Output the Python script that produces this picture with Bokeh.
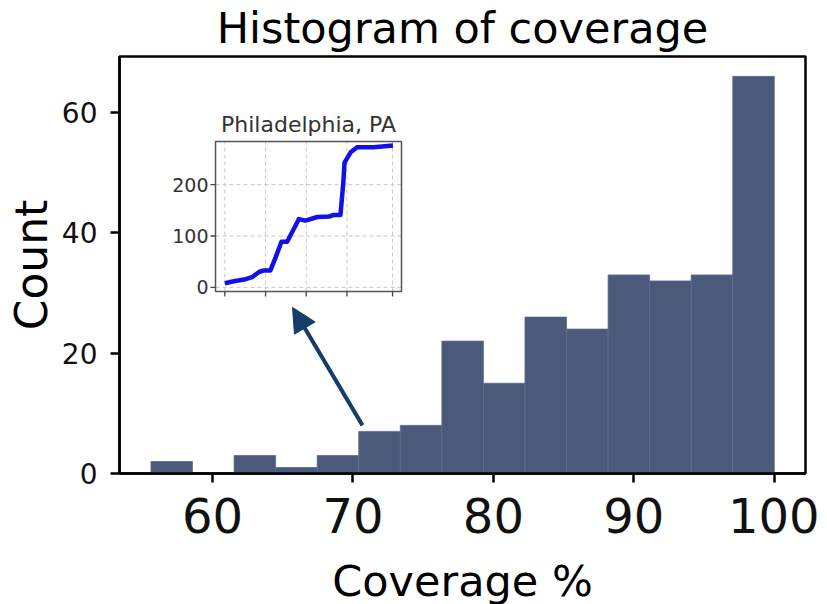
import numpy as np
from bokeh.plotting import figure
from bokeh.models import Range1d, FixedTicker, Arrow, NormalHead
from bokeh.core.properties import value
from bokeh.embed import file_html
from bokeh.resources import INLINE

# ---------------- data ----------------
coverage_min = 55.62
coverage_max = 100.0
counts = [2, 0, 3, 1, 3, 7, 8, 22, 15, 26, 24, 33, 32, 33, 66]
x_ticks = [60, 70, 80, 90, 100]
y_ticks = [0, 20, 40, 60]

# inset: cumulative count over time, Philadelphia, PA
inset_x = [0, 2.2, 5.1, 6.7, 8.4, 9.6, 11.2, 12.5, 13.9, 15.3, 18.2, 19.8,
           22.7, 25.6, 26.8, 28.4, 29.1, 29.4, 30.9, 32.5, 36.6, 41.3]
inset_y = [8, 12, 16, 20, 30, 33, 33, 59, 89, 89, 133, 130,
           137, 138, 141, 141, 204, 243, 263, 273, 273, 276]
inset_x_ticks = [0, 10, 20, 30, 41.2]
inset_y_ticks = [0, 100, 200]
inset_title = "Philadelphia, PA"

# annotation arrow (main data coordinates): from the 71-74 % bin to the inset
arrow_start = (70.68, 8.0)
arrow_end = (65.7, 27.6)

# ---------------- layout constants (page pixels) ----------------
FRAME_L, FRAME_T, FRAME_R, FRAME_B = 119, 56, 805, 473
IN_L, IN_T, IN_R, IN_B = 215, 141, 401, 291
X_LIM = (53.38, 102.22)
Y_LIM = (0, 69.3)
IX_LIM = (-2.3, 43.4)
IY_LIM = (-8, 284)

FW = FRAME_R - FRAME_L
FH = FRAME_B - FRAME_T

FONT = "DejaVu Sans"

p = figure(frame_width=FW, frame_height=FH,
           x_range=Range1d(*X_LIM), y_range=Range1d(*Y_LIM),
           output_backend="svg", toolbar_location=None,
           min_border_left=FRAME_L, min_border_top=FRAME_T,
           min_border_right=14, min_border_bottom=100,
           title="Histogram of coverage")
p.background_fill_color = "white"
p.border_fill_color = "white"
p.title.text_font = FONT
p.title.text_font_size = "43px"
p.title.text_font_style = "normal"
p.title.text_color = "black"
p.title.align = "center"
p.title.vertical_align = "top"
p.title.standoff = 3
p.title.offset = 0

p.xgrid.visible = False
p.ygrid.visible = False
p.outline_line_color = "black"
p.outline_line_width = 2.5

for ax in (p.xaxis[0], p.yaxis[0]):
    ax.axis_line_width = 2.5
    ax.major_tick_line_width = 2.5
    ax.major_tick_out = 9
    ax.major_tick_in = 0
    ax.minor_tick_line_color = None
    ax.major_label_text_font = FONT
    ax.axis_label_text_font = FONT
    ax.axis_label_text_font_style = "normal"
    ax.axis_label_text_color = "black"
    ax.major_label_text_color = "#111111"

p.xaxis.ticker = FixedTicker(ticks=x_ticks)
p.yaxis.ticker = FixedTicker(ticks=y_ticks)
p.xaxis.major_label_text_font_size = "48px"
p.yaxis.major_label_text_font_size = "28px"
p.xaxis.axis_label = "Coverage %"
p.yaxis.axis_label = "Count"
p.xaxis.axis_label_text_font_size = "43px"
p.yaxis.axis_label_text_font_size = "44px"
p.xaxis.major_label_standoff = 15
p.yaxis.major_label_standoff = 13
p.xaxis.axis_label_standoff = 20
p.yaxis.axis_label_standoff = 2

# histogram
edges = np.linspace(coverage_min, coverage_max, len(counts) + 1)
p.quad(left=edges[:-1], right=edges[1:], bottom=0, top=counts,
       fill_color="#4b5a7a", line_color="#5d6c8b", line_width=0.8)

# ---------------- inset, drawn with extra ranges ----------------
ux = (IX_LIM[1] - IX_LIM[0]) / (IN_R - IN_L)
uy = (IY_LIM[1] - IY_LIM[0]) / (IN_B - IN_T)
p.extra_x_ranges = {"ix": Range1d(IX_LIM[0] - (IN_L - FRAME_L) * ux,
                                  IX_LIM[1] + (FRAME_R - IN_R) * ux)}
p.extra_y_ranges = {"iy": Range1d(IY_LIM[0] - (FRAME_B - IN_B) * uy,
                                  IY_LIM[1] + (IN_T - FRAME_T) * uy)}
R = dict(x_range_name="ix", y_range_name="iy")

# background
p.quad(left=[IX_LIM[0]], right=[IX_LIM[1]], bottom=[IY_LIM[0]], top=[IY_LIM[1]],
       fill_color="white", line_color=None, **R)
# grid
p.segment(x0=inset_x_ticks, x1=inset_x_ticks,
          y0=[IY_LIM[0]] * len(inset_x_ticks), y1=[IY_LIM[1]] * len(inset_x_ticks),
          line_color="#c8c8c8", line_width=1, line_dash="4 3", **R)
p.segment(x0=[IX_LIM[0]] * len(inset_y_ticks), x1=[IX_LIM[1]] * len(inset_y_ticks),
          y0=inset_y_ticks, y1=inset_y_ticks,
          line_color="#c8c8c8", line_width=1, line_dash="4 3", **R)
# line
p.line(x=inset_x, y=inset_y, line_color="#1010e8", line_width=4.5, line_join="round", **R)
# frame
p.quad(left=[IX_LIM[0]], right=[IX_LIM[1]], bottom=[IY_LIM[0]], top=[IY_LIM[1]],
       fill_color=None, line_color="#555555", line_width=1.5, **R)
# ticks
TL = 5
p.segment(x0=[IX_LIM[0]] * len(inset_y_ticks), x1=[IX_LIM[0] - TL * ux] * len(inset_y_ticks),
          y0=inset_y_ticks, y1=inset_y_ticks, line_color="#444444", line_width=1.3, **R)
p.segment(x0=inset_x_ticks, x1=inset_x_ticks,
          y0=[IY_LIM[0]] * len(inset_x_ticks), y1=[IY_LIM[0] - TL * uy] * len(inset_x_ticks),
          line_color="#444444", line_width=1.3, **R)
# tick labels
p.text(x=[IX_LIM[0]] * len(inset_y_ticks), y=inset_y_ticks,
       text=[str(t) for t in inset_y_ticks], x_offset=-7,
       text_align="right", text_baseline="middle",
       text_font=value(FONT), text_font_size="19px", text_color="#333333", **R)
# title
p.text(x=[(IX_LIM[0] + IX_LIM[1]) / 2], y=[IY_LIM[1]], text=[inset_title],
       y_offset=-5, text_align="center", text_baseline="bottom",
       text_font=value(FONT), text_font_size="22px", text_color="#333333", **R)

# arrow
p.add_layout(Arrow(x_start=arrow_start[0], y_start=arrow_start[1],
                   x_end=arrow_end[0], y_end=arrow_end[1],
                   line_color="#143d68", line_width=4,
                   end=NormalHead(size=24, fill_color="#143d68", line_color="#143d68")))

open("out.html", "w").write(file_html(p, INLINE))
